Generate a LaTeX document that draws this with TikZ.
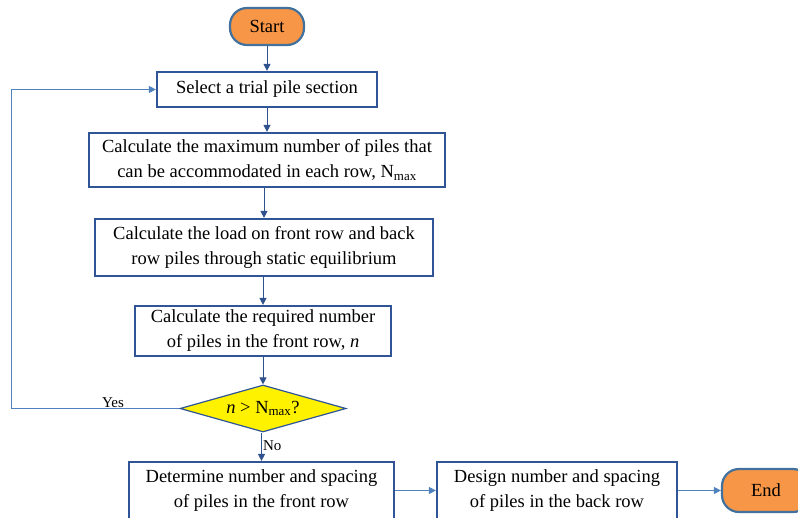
\documentclass[tikz,border=0pt]{standalone}
\usepackage{fontspec}
\setmainfont{Liberation Serif}
\usetikzlibrary{shapes.geometric,arrows.meta}
\definecolor{boxline}{HTML}{2F5597}
\definecolor{flowline}{HTML}{2F528F}
\definecolor{loopline}{HTML}{4F81BD}
\definecolor{termfill}{HTML}{F79646}
\definecolor{termline}{HTML}{41719C}
\begin{document}
\begin{tikzpicture}[x=1pt,y=-1pt,
  base/.style={font=\fontsize{18.5}{25}\selectfont, inner sep=0pt, align=center},
  process/.style={base, draw=boxline, line width=2.2pt, fill=white},
  terminal/.style={base, draw=termline, line width=2.2pt, fill=termfill, rounded corners=17pt},
  decision/.style={base, diamond, aspect=3.5, draw=boxline, line width=1.2pt, fill=yellow},
  flow/.style={draw=flowline, line width=1pt, -{Triangle[length=7pt,width=7pt]}},
  loop/.style={draw=loopline, line width=1pt, -{Triangle[length=7pt,width=7pt]}},
  tag/.style={font=\fontsize{15}{17}\selectfont, inner sep=1pt}
]
\useasboundingbox (0,0) rectangle (798,517);

\node[terminal, minimum width=74pt, minimum height=37pt] (start) at (267,26.5) {Start};
\node[process, minimum width=220pt, minimum height=35pt] (sel) at (267,89.5) {Select a trial pile section};
\node[process, minimum width=356pt, minimum height=54pt] (max) at (267,160)
  {Calculate the maximum number of piles that\\can be accommodated in each row, N\textsubscript{max}};
\node[process, minimum width=338pt, minimum height=57pt] (load) at (264,247.5)
  {Calculate the load on front row and back\\row piles through static equilibrium};
\node[process, minimum width=256pt, minimum height=50pt] (req) at (263,331)
  {Calculate the required number\\of piles in the front row, \textit{n}};
\node[decision, minimum width=166pt, minimum height=47pt] (dec) at (263,408.5)
  {\textit{n} > N\textsubscript{max}?};
\node[process, minimum width=265pt, minimum height=57pt] (det) at (261.5,490.5)
  {Determine number and spacing\\of piles in the front row};
\node[process, minimum width=240pt, minimum height=57pt] (des) at (557,490.5)
  {Design number and spacing\\of piles in the back row};
\node[terminal, minimum width=88pt, minimum height=43pt] (end) at (766,490.5) {End};

\draw[flow] (start) -- (sel);
\draw[flow] (sel) -- (max);
\draw[flow] (max.south -| load) -- (load);
\draw[flow] (load.south -| req) -- (req);
\draw[flow] (req.south -| dec) -- (dec);
\draw[flow] (dec.south -| det) -- node[tag, right, pos=0.45] (no) {No} (det);
\draw[loop] (dec.west) -- (11,408.5) coordinate (lc) -- (lc |- sel) -- (sel.west);
\node[tag] (yes) at (113,403) {Yes};
\draw[loop] (det.east) -- (des.west);
\draw[loop] (des.east) -- (end.west);
\end{tikzpicture}
\end{document}
